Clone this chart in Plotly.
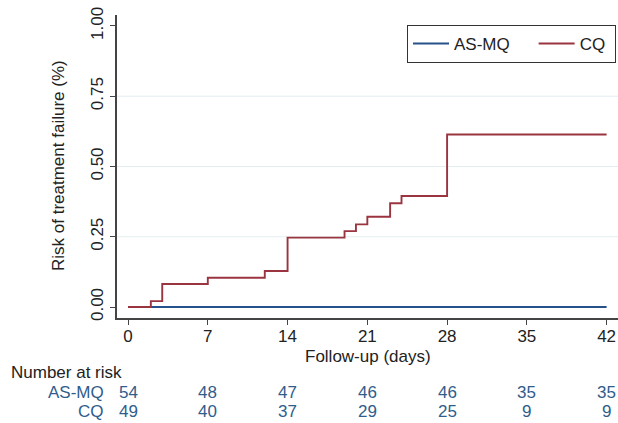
import plotly.graph_objects as go

# Data
cq_days = [0, 2, 3, 7, 12, 14, 19, 20, 21, 23, 24, 28, 42]
cq_risk = [0.0, 0.021, 0.082, 0.104, 0.128, 0.247, 0.270, 0.294, 0.321, 0.369, 0.395, 0.614, 0.614]
asmq_days = [0, 42]
asmq_risk = [0.0, 0.0]

tick_days = [0, 7, 14, 21, 28, 35, 42]
risk_asmq = [54, 48, 47, 46, 46, 35, 35]
risk_cq = [49, 40, 37, 29, 25, 9, 9]
y_ticks = [0, 0.25, 0.5, 0.75, 1.0]
y_ticklabels = ["0.00", "0.25", "0.50", "0.75", "1.00"]
series_names = ["AS-MQ", "CQ"]

NAVY = "#25528a"
MAROON = "#9a3540"
TXT_BLUE = "#2f5d8c"
FONT = "Liberation Sans, Arial, sans-serif"
FS = 17

fig = go.Figure()
fig.add_trace(go.Scatter(x=asmq_days, y=asmq_risk, mode="lines",
                         name=series_names[0] + "\u00a0\u00a0\u00a0\u00a0",
                         line=dict(color=NAVY, width=1.9, shape="hv")))
fig.add_trace(go.Scatter(x=cq_days, y=cq_risk, mode="lines",
                         name=series_names[1] + "\u00a0",
                         line=dict(color=MAROON, width=1.9, shape="hv")))

W, H = 618, 423
L, R, T, B = 117, 0, 15, 105
plot_h = H - T - B
plot_w = W - L - R

def ypaper(px):
    return (H - B - px) / plot_h

def xpaper(px):
    return (px - L) / plot_w

anns = [dict(text="Number at risk", x=xpaper(9), xref="paper", y=ypaper(372), yref="paper",
             xanchor="left", yanchor="middle", showarrow=False,
             font=dict(size=FS, color="#222", family=FONT))]

for lbl, row, ypx in [(series_names[0], risk_asmq, 392), (series_names[1], risk_cq, 411)]:
    anns.append(dict(text=lbl, x=xpaper(106), xref="paper", y=ypaper(ypx), yref="paper",
                     xanchor="right", yanchor="middle", showarrow=False,
                     font=dict(size=FS, color=TXT_BLUE, family=FONT)))
    for d, v in zip(tick_days, row):
        anns.append(dict(text=str(v), x=d, xref="x", y=ypaper(ypx), yref="paper",
                         xanchor="center", yanchor="middle", showarrow=False,
                         font=dict(size=FS, color=TXT_BLUE, family=FONT)))

anns.append(dict(text="Follow-up (days)", x=0.5, xref="paper", y=ypaper(356), yref="paper",
                 xanchor="center", yanchor="middle", showarrow=False,
                 font=dict(size=FS, color="#222", family=FONT)))
anns.append(dict(text="Risk of treatment failure (%)", x=xpaper(58), xref="paper",
                 y=ypaper(166), yref="paper", textangle=-90,
                 xanchor="center", yanchor="middle", showarrow=False,
                 font=dict(size=FS, color="#222", family=FONT)))

fig.update_layout(
    width=W, height=H,
    margin=dict(l=L, r=R, t=T, b=B),
    paper_bgcolor="white", plot_bgcolor="white",
    font=dict(family=FONT, size=FS, color="#222"),
    showlegend=True,
    legend=dict(orientation="h", x=xpaper(407), y=ypaper(25), xanchor="left", yanchor="top",
                bordercolor="#333", borderwidth=1, bgcolor="white",
                font=dict(size=FS, color="#222"), itemwidth=36,
                tracegroupgap=0),
    annotations=anns,
    xaxis=dict(range=[-0.97, 43.0], tickmode="array", tickvals=tick_days,
               ticks="outside", ticklen=5, tickcolor="#444", showline=True,
               linecolor="#444", linewidth=1.5, showgrid=False, zeroline=False,
               ticklabelstandoff=-3,
               tickfont=dict(size=FS, color="#222")),
    yaxis=dict(range=[-0.039, 1.039], tickmode="array", tickvals=y_ticks,
               ticktext=y_ticklabels, tickangle=-90,
               ticks="outside", ticklen=5, tickcolor="#444", showline=True,
               linecolor="#444", linewidth=1.5, showgrid=False, zeroline=False,
               tickfont=dict(size=FS, color="#222")),
)

for yv in [0.25, 0.5, 0.75]:
    fig.add_shape(type="line", xref="paper", x0=0, x1=1, yref="y", y0=yv, y1=yv,
                  line=dict(color="#e3eef1", width=1), layer="below")

fig.write_html("out.html", config={"displayModeBar": False},
               post_script="document.body.style.margin='0';")
